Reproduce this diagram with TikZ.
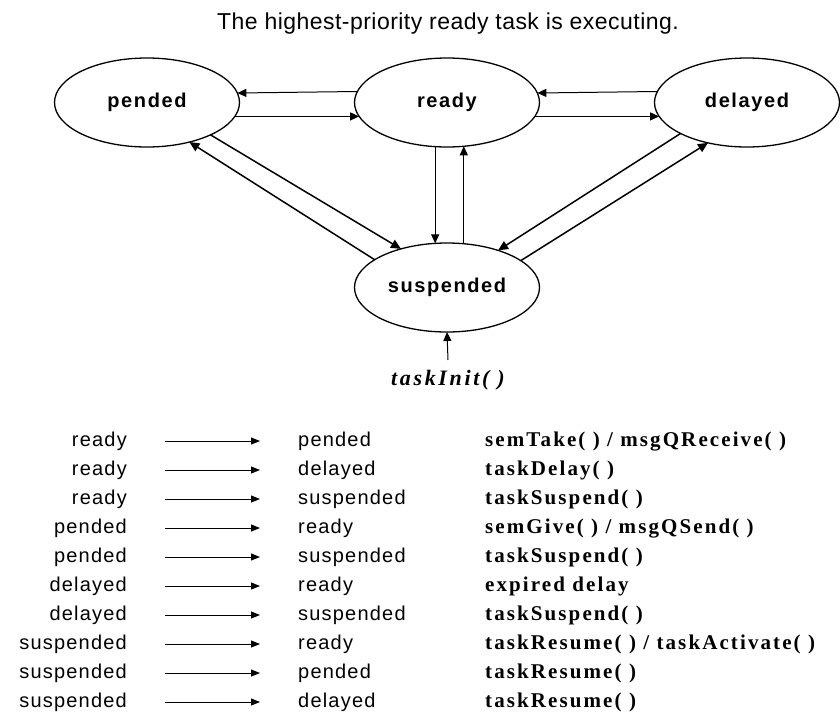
\documentclass[tikz,border=0pt]{standalone}
\usepackage{fontspec}
\setmainfont{Liberation Serif}
\newfontfamily\titlefont[LetterSpace=2]{Liberation Sans}
\newfontfamily\statefont[LetterSpace=8]{Liberation Sans}
\newfontfamily\tabfont[LetterSpace=6]{Liberation Sans}
\newfontfamily\funcfont[LetterSpace=10]{Liberation Serif}
\newfontfamily\initfont[LetterSpace=12]{Liberation Serif}
\usetikzlibrary{arrows.meta,shapes.geometric}
\begin{document}
\begin{tikzpicture}[x=1pt,y=-1pt,
  state/.style={ellipse,draw,line width=1.3pt,minimum width=185pt,minimum height=89pt,
    inner sep=0pt,outer sep=0pt,font=\statefont\bfseries\fontsize{20}{22}\selectfont},
  arr/.style={-{Triangle[length=9pt,width=8pt]},line width=1pt},
  darr/.style={-{Triangle[length=10pt,width=9pt]},line width=1.5pt},
  tarr/.style={-{Triangle[length=9pt,width=7pt]},line width=1pt},
  lc/.style={anchor=base east,inner sep=0pt,font=\tabfont\fontsize{20}{22}\selectfont},
  rc/.style={anchor=base west,inner sep=0pt,font=\tabfont\fontsize{20}{22}\selectfont},
  fc/.style={anchor=base west,inner sep=0pt,font=\funcfont\bfseries\fontsize{21}{23}\selectfont}]
\useasboundingbox (0,0) rectangle (840,718);
\fill[white] (0,0) rectangle (840,718);

\node[anchor=base,inner sep=0pt,font=\titlefont\fontsize{23}{27}\selectfont] (title) at (448,29.5) {The highest-priority ready task is executing.};

\node[state] (pended) at (147,102.5) {pended};
\node[state] (ready) at (447,102.5) {ready};
\node[state] (delayed) at (747,102.5) {delayed};
\node[state] (susp) at (447,287.5) {suspended};

% horizontal
\draw[arr] (ready.173.34) -- (pended.6.66);
\draw[arr] (pended.-9.41) -- (ready.189.41);
\draw[arr] (delayed.173.34) -- (ready.6.66);
\draw[arr] (ready.-9.41) -- (delayed.189.41);
% vertical
\draw[arr] (ready.-105.22) -- (susp.105.22);
\draw[arr] (susp.69.95) -- (ready.-69.95);
% diagonals
\draw[darr] (pended.-27.6) -- (susp.140.6);
\draw[darr] (susp.159.5) -- (pended.-43.4);
\draw[darr] (delayed.205.9) -- (susp.36.7);
\draw[darr] (susp.20.2) -- (delayed.226.1);

% taskInit
\node[anchor=base,inner sep=0pt,font=\initfont\bfseries\itshape\fontsize{22}{24}\selectfont] (init) at (448,385) {taskInit( )};
\coordinate (initTop) at (448,360);
\draw[arr] (initTop) -- (susp.south);

% table
\node[lc] (l0) at (127,446) {ready};
\node[rc] (r0) at (298,446) {pended};
\node[fc] (f0) at (485,446) {semTake( ) / msgQReceive( )};
\coordinate (a0s) at (165,441); \coordinate (a0e) at (260,441);
\draw[tarr] (a0s) -- (a0e);

\node[lc] (l1) at (127,475) {ready};
\node[rc] (r1) at (298,475) {delayed};
\node[fc] (f1) at (485,475) {taskDelay( )};
\coordinate (a1s) at (165,470); \coordinate (a1e) at (260,470);
\draw[tarr] (a1s) -- (a1e);

\node[lc] (l2) at (127,504) {ready};
\node[rc] (r2) at (298,504) {suspended};
\node[fc] (f2) at (485,504) {taskSuspend( )};
\coordinate (a2s) at (165,499); \coordinate (a2e) at (260,499);
\draw[tarr] (a2s) -- (a2e);

\node[lc] (l3) at (127,533) {pended};
\node[rc] (r3) at (298,533) {ready};
\node[fc] (f3) at (485,533) {semGive( ) / msgQSend( )};
\coordinate (a3s) at (165,528); \coordinate (a3e) at (260,528);
\draw[tarr] (a3s) -- (a3e);

\node[lc] (l4) at (127,562) {pended};
\node[rc] (r4) at (298,562) {suspended};
\node[fc] (f4) at (485,562) {taskSuspend( )};
\coordinate (a4s) at (165,557); \coordinate (a4e) at (260,557);
\draw[tarr] (a4s) -- (a4e);

\node[lc] (l5) at (127,591) {delayed};
\node[rc] (r5) at (298,591) {ready};
\node[fc] (f5) at (485,591) {expired delay};
\coordinate (a5s) at (165,586); \coordinate (a5e) at (260,586);
\draw[tarr] (a5s) -- (a5e);

\node[lc] (l6) at (127,620) {delayed};
\node[rc] (r6) at (298,620) {suspended};
\node[fc] (f6) at (485,620) {taskSuspend( )};
\coordinate (a6s) at (165,615); \coordinate (a6e) at (260,615);
\draw[tarr] (a6s) -- (a6e);

\node[lc] (l7) at (127,649) {suspended};
\node[rc] (r7) at (298,649) {ready};
\node[fc] (f7) at (485,649) {taskResume( ) / taskActivate( )};
\coordinate (a7s) at (165,644); \coordinate (a7e) at (260,644);
\draw[tarr] (a7s) -- (a7e);

\node[lc] (l8) at (127,678) {suspended};
\node[rc] (r8) at (298,678) {pended};
\node[fc] (f8) at (485,678) {taskResume( )};
\coordinate (a8s) at (165,673); \coordinate (a8e) at (260,673);
\draw[tarr] (a8s) -- (a8e);

\node[lc] (l9) at (127,707) {suspended};
\node[rc] (r9) at (298,707) {delayed};
\node[fc] (f9) at (485,707) {taskResume( )};
\coordinate (a9s) at (165,702); \coordinate (a9e) at (260,702);
\draw[tarr] (a9s) -- (a9e);
\end{tikzpicture}
\end{document}
